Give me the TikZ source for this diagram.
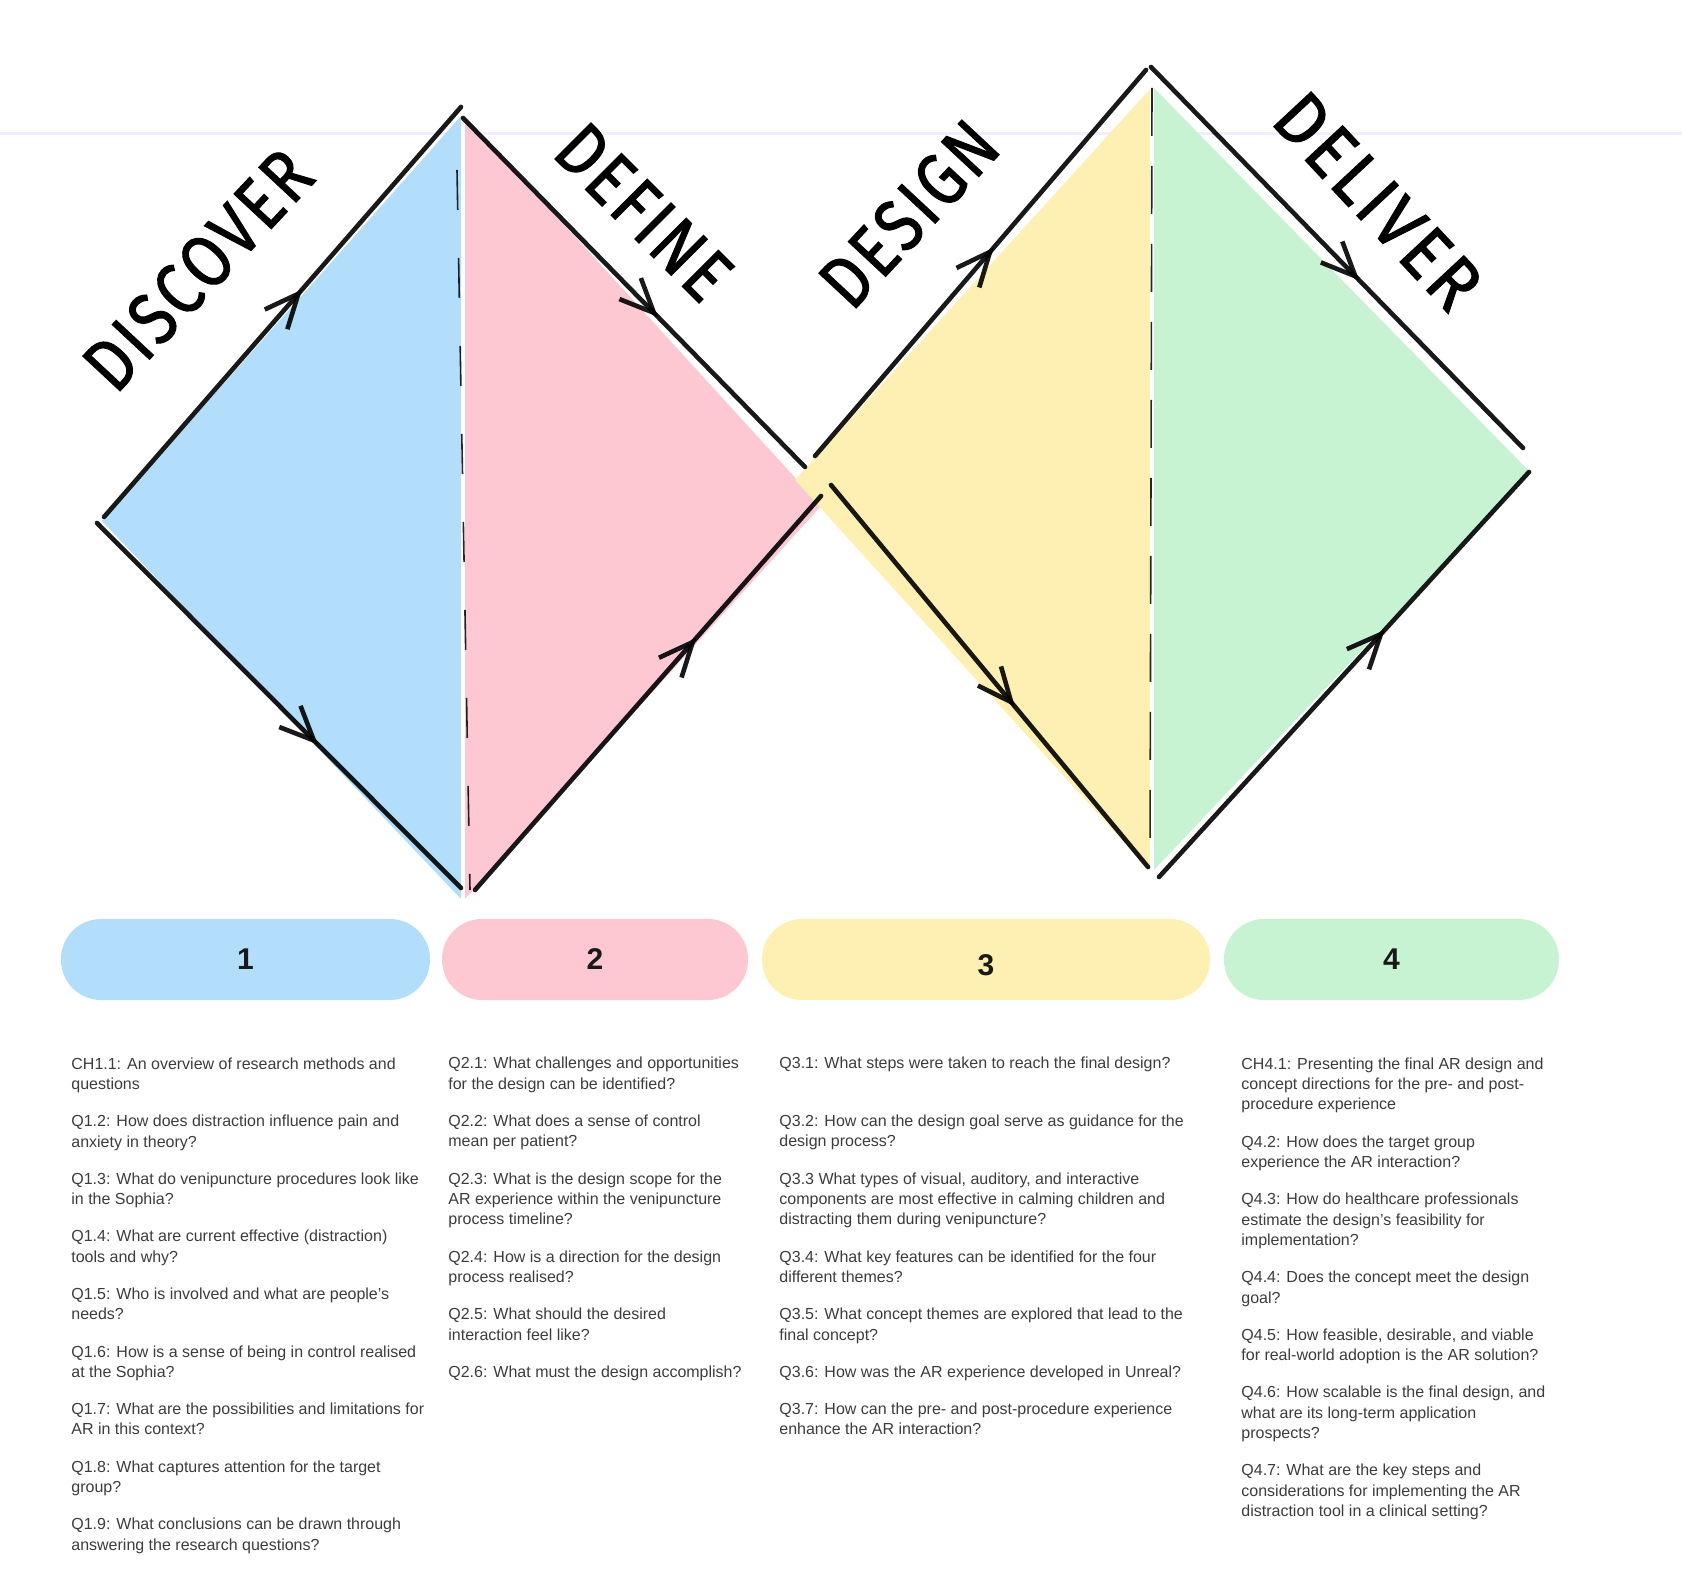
\documentclass[tikz,border=0pt]{standalone}
\usepackage{fontspec}
\setmainfont{Liberation Sans}
\newfontfamily\handfont[LetterSpace=5, FakeBold=1.5]{Fira Sans}
\usetikzlibrary{arrows.meta,decorations.markings}

\definecolor{discoverblue}{HTML}{B2DEFC}
\definecolor{definepink}{HTML}{FEC8D3}
\definecolor{designyellow}{HTML}{FDF0B2}
\definecolor{delivergreen}{HTML}{C7F3D3}
\definecolor{questiongray}{HTML}{3C3C3C}
\definecolor{guideline}{HTML}{EEEEFC}

\tikzset{
  sketch/.style={line width=2.3pt, black, opacity=0.9, line cap=round},
  midarrow/.style={postaction={decorate, decoration={markings,
      mark=at position #1 with {\arrow{Straight Barb[length=17pt,width=15pt,line width=2.3pt]}}}}},
  phase/.style={font=\handfont\fontsize{37}{37}\selectfont, inner sep=0pt},
  pillbox/.style={rounded corners=20pt, minimum height=40.5pt, inner sep=0pt,
      font=\bfseries\fontsize{15}{15}\selectfont, text=black!90},
  questions/.style={anchor=north west, align=left, inner sep=0pt, text=questiongray,
      font=\fontsize{8}{10.2}\selectfont},
  divider/.style={white, line width=1.6pt},
  scribble/.style={black, line width=0.8pt, opacity=0.85}
}

\begin{document}
\begin{tikzpicture}[x=0.5pt, y=-0.5pt]
					\useasboundingbox (0,0) rectangle (1682,1582);
					
					\draw[guideline, line width=1.5pt] (0,134) -- (1682,134);
					
					\fill[discoverblue] (102,521) -- (461,116) -- (461,899) -- cycle;
					\fill[definepink] (465,116) -- (821,506) -- (465,899) -- cycle;
					\fill[designyellow] (795,480) -- (1151,88) -- (1151,872) -- cycle;
					\fill[delivergreen] (1154,88) -- (1530,472) -- (1154,870) -- cycle;
					
					\draw[divider] (463,110) -- (463,900);
					\draw[divider] (1152,84) -- (1152,872);
					\draw[scribble, dash pattern=on 20pt off 24pt] (457,170) -- (470,890);
					\draw[scribble, dash pattern=on 24pt off 15pt] (1152,88) -- (1150,860);
					
					\draw[sketch, midarrow=0.555] (104,517) -- (461,107);
					\draw[sketch, midarrow=0.607] (97,523) -- (461,888);
					\draw[sketch, midarrow=0.57] (463,118) -- (805,467);
					\draw[sketch, midarrow=0.64] (475,890) -- (821,496);
					\draw[sketch, midarrow=0.54] (815,456) -- (1146,70);
					\draw[sketch, midarrow=0.58] (831,485) -- (1148,867);
					\draw[sketch, midarrow=0.56] (1151,67) -- (1523,448);
					\draw[sketch, midarrow=0.61] (1159,877) -- (1529,472);
					
					\node[phase, rotate=47] (discover) at (198,270) {\scalebox{0.84}[1]{DISCOVER}};
					\node[phase, rotate=-45] (define) at (644,212) {\scalebox{0.84}[1]{DEFINE}};
					\node[phase, rotate=47] (design) at (909,214) {\scalebox{0.84}[1]{DESIGN}};
					\node[phase, rotate=-47] (deliver) at (1378,201) {\scalebox{0.9}[1]{DELIVER}};
					
					\node[pillbox, fill=discoverblue, minimum width=184.5pt] (pill1) at (245.5,959.5) {1};
					\node[pillbox, fill=definepink, minimum width=153pt] (pill2) at (595,959.5) {2};
					\node[pillbox, fill=designyellow, minimum width=224pt] (pill3) at (986,959.5) {\raisebox{-3pt}[\height][\depth]{3}};
					\node[pillbox, fill=delivergreen, minimum width=167.5pt] (pill4) at (1391.5,959.5) {4};
					
					\node[questions] (discoverq) at (71,1057) {CH1.1: An overview of research methods and\\questions\\[8.4pt]
						Q1.2: How does distraction influence pain and\\anxiety in theory?\\[8.4pt]
						Q1.3: What do venipuncture procedures look like\\in the Sophia?\\[8.4pt]
						Q1.4: What are current effective (distraction)\\tools and why?\\[8.4pt]
						Q1.5: Who is involved and what are people’s\\needs?\\[8.4pt]
						Q1.6: How is a sense of being in control realised\\at the Sophia?\\[8.4pt]
						Q1.7: What are the possibilities and limitations for\\AR in this context?\\[8.4pt]
						Q1.8: What captures attention for the target\\group?\\[8.4pt]
						Q1.9: What conclusions can be drawn through\\answering the research questions?};
					
					\node[questions] (defineq) at (448,1057) {Q2.1: What challenges and opportunities\\for the design can be identified?\\[8.4pt]
						Q2.2: What does a sense of control\\mean per patient?\\[8.4pt]
						Q2.3: What is the design scope for the\\AR experience within the venipuncture\\process timeline?\\[8.4pt]
						Q2.4: How is a direction for the design\\process realised?\\[8.4pt]
						Q2.5: What should the desired\\interaction feel like?\\[8.4pt]
						Q2.6: What must the design accomplish?};
					
					\node[questions] (designq) at (779,1057) {Q3.1: What steps were taken to reach the final design?\\[18.6pt]
						Q3.2: How can the design goal serve as guidance for the\\design process?\\[8.4pt]
						Q3.3 What types of visual, auditory, and interactive\\components are most effective in calming children and\\distracting them during venipuncture?\\[8.4pt]
						Q3.4: What key features can be identified for the four\\different themes?\\[8.4pt]
						Q3.5: What concept themes are explored that lead to the\\final concept?\\[8.4pt]
						Q3.6: How was the AR experience developed in Unreal?\\[8.4pt]
						Q3.7: How can the pre- and post-procedure experience\\enhance the AR interaction?};
					
					\node[questions] (deliverq) at (1241,1057) {CH4.1: Presenting the final AR design and\\concept directions for the pre- and post-\\procedure experience\\[8.4pt]
						Q4.2: How does the target group\\experience the AR interaction?\\[8.4pt]
						Q4.3: How do healthcare professionals\\estimate the design’s feasibility for\\implementation?\\[8.4pt]
						Q4.4: Does the concept meet the design\\goal?\\[8.4pt]
						Q4.5: How feasible, desirable, and viable\\for real-world adoption is the AR solution?\\[8.4pt]
						Q4.6: How scalable is the final design, and\\what are its long-term application\\prospects?\\[8.4pt]
						Q4.7: What are the key steps and\\considerations for implementing the AR\\distraction tool in a clinical setting?};
					
				\end{tikzpicture}
\end{document}
